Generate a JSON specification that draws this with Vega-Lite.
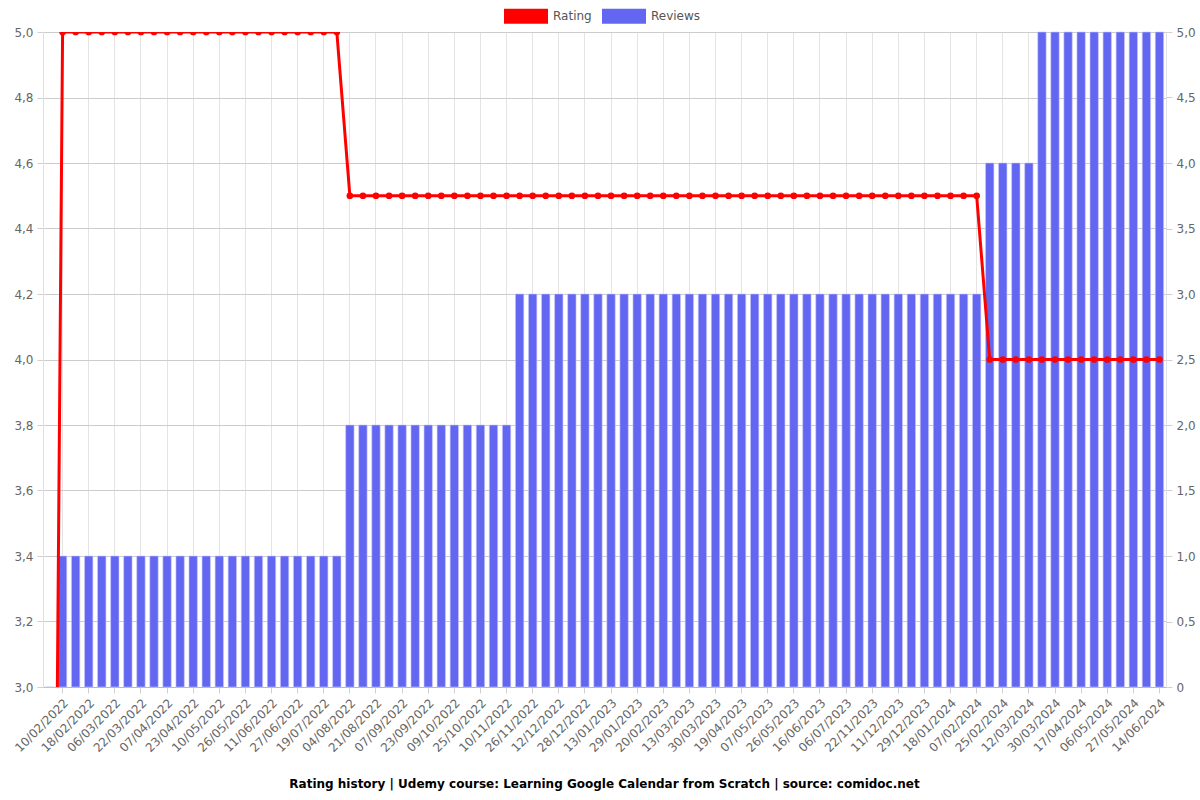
{
  "$schema": "https://vega.github.io/schema/vega-lite/v6.json",
  "width": 1123,
  "height": 655,
  "autosize": {"type": "none"},
  "padding": {"left": 43, "top": 32, "right": 34, "bottom": 113},
  "config": {
    "font": "DejaVu Sans",
    "view": {"stroke": null},
    "axis": {"labelFont": "DejaVu Sans", "labelColor": "#666666", "title": null, "tickColor": "#d0d0d0", "tickSize": 6}
  },
  "title": {"text": "Rating history | Udemy course: Learning Google Calendar from Scratch | source: comidoc.net", "orient": "bottom", "fontSize": 12, "fontWeight": "bold", "color": "#000000", "font": "DejaVu Sans", "offset": 25},
  "data": {"values": [
    {"date": "02/02/2022", "rating": 0, "reviews": 0},
    {"date": "10/02/2022", "rating": 5, "reviews": 1},
    {"date": "14/02/2022", "rating": 5, "reviews": 1},
    {"date": "18/02/2022", "rating": 5, "reviews": 1},
    {"date": "26/02/2022", "rating": 5, "reviews": 1},
    {"date": "06/03/2022", "rating": 5, "reviews": 1},
    {"date": "14/03/2022", "rating": 5, "reviews": 1},
    {"date": "22/03/2022", "rating": 5, "reviews": 1},
    {"date": "30/03/2022", "rating": 5, "reviews": 1},
    {"date": "07/04/2022", "rating": 5, "reviews": 1},
    {"date": "15/04/2022", "rating": 5, "reviews": 1},
    {"date": "23/04/2022", "rating": 5, "reviews": 1},
    {"date": "02/05/2022", "rating": 5, "reviews": 1},
    {"date": "10/05/2022", "rating": 5, "reviews": 1},
    {"date": "18/05/2022", "rating": 5, "reviews": 1},
    {"date": "26/05/2022", "rating": 5, "reviews": 1},
    {"date": "03/06/2022", "rating": 5, "reviews": 1},
    {"date": "11/06/2022", "rating": 5, "reviews": 1},
    {"date": "19/06/2022", "rating": 5, "reviews": 1},
    {"date": "27/06/2022", "rating": 5, "reviews": 1},
    {"date": "08/07/2022", "rating": 5, "reviews": 1},
    {"date": "19/07/2022", "rating": 5, "reviews": 1},
    {"date": "27/07/2022", "rating": 5, "reviews": 1},
    {"date": "04/08/2022", "rating": 4.5, "reviews": 2},
    {"date": "12/08/2022", "rating": 4.5, "reviews": 2},
    {"date": "21/08/2022", "rating": 4.5, "reviews": 2},
    {"date": "30/08/2022", "rating": 4.5, "reviews": 2},
    {"date": "07/09/2022", "rating": 4.5, "reviews": 2},
    {"date": "15/09/2022", "rating": 4.5, "reviews": 2},
    {"date": "23/09/2022", "rating": 4.5, "reviews": 2},
    {"date": "01/10/2022", "rating": 4.5, "reviews": 2},
    {"date": "09/10/2022", "rating": 4.5, "reviews": 2},
    {"date": "17/10/2022", "rating": 4.5, "reviews": 2},
    {"date": "25/10/2022", "rating": 4.5, "reviews": 2},
    {"date": "02/11/2022", "rating": 4.5, "reviews": 2},
    {"date": "10/11/2022", "rating": 4.5, "reviews": 2},
    {"date": "18/11/2022", "rating": 4.5, "reviews": 3},
    {"date": "26/11/2022", "rating": 4.5, "reviews": 3},
    {"date": "04/12/2022", "rating": 4.5, "reviews": 3},
    {"date": "12/12/2022", "rating": 4.5, "reviews": 3},
    {"date": "20/12/2022", "rating": 4.5, "reviews": 3},
    {"date": "28/12/2022", "rating": 4.5, "reviews": 3},
    {"date": "05/01/2023", "rating": 4.5, "reviews": 3},
    {"date": "13/01/2023", "rating": 4.5, "reviews": 3},
    {"date": "21/01/2023", "rating": 4.5, "reviews": 3},
    {"date": "29/01/2023", "rating": 4.5, "reviews": 3},
    {"date": "09/02/2023", "rating": 4.5, "reviews": 3},
    {"date": "20/02/2023", "rating": 4.5, "reviews": 3},
    {"date": "02/03/2023", "rating": 4.5, "reviews": 3},
    {"date": "13/03/2023", "rating": 4.5, "reviews": 3},
    {"date": "21/03/2023", "rating": 4.5, "reviews": 3},
    {"date": "30/03/2023", "rating": 4.5, "reviews": 3},
    {"date": "09/04/2023", "rating": 4.5, "reviews": 3},
    {"date": "19/04/2023", "rating": 4.5, "reviews": 3},
    {"date": "28/04/2023", "rating": 4.5, "reviews": 3},
    {"date": "07/05/2023", "rating": 4.5, "reviews": 3},
    {"date": "16/05/2023", "rating": 4.5, "reviews": 3},
    {"date": "26/05/2023", "rating": 4.5, "reviews": 3},
    {"date": "05/06/2023", "rating": 4.5, "reviews": 3},
    {"date": "16/06/2023", "rating": 4.5, "reviews": 3},
    {"date": "26/06/2023", "rating": 4.5, "reviews": 3},
    {"date": "06/07/2023", "rating": 4.5, "reviews": 3},
    {"date": "03/11/2023", "rating": 4.5, "reviews": 3},
    {"date": "22/11/2023", "rating": 4.5, "reviews": 3},
    {"date": "01/12/2023", "rating": 4.5, "reviews": 3},
    {"date": "11/12/2023", "rating": 4.5, "reviews": 3},
    {"date": "20/12/2023", "rating": 4.5, "reviews": 3},
    {"date": "29/12/2023", "rating": 4.5, "reviews": 3},
    {"date": "08/01/2024", "rating": 4.5, "reviews": 3},
    {"date": "18/01/2024", "rating": 4.5, "reviews": 3},
    {"date": "28/01/2024", "rating": 4.5, "reviews": 3},
    {"date": "07/02/2024", "rating": 4.5, "reviews": 3},
    {"date": "16/02/2024", "rating": 4, "reviews": 4},
    {"date": "25/02/2024", "rating": 4, "reviews": 4},
    {"date": "04/03/2024", "rating": 4, "reviews": 4},
    {"date": "12/03/2024", "rating": 4, "reviews": 4},
    {"date": "21/03/2024", "rating": 4, "reviews": 5},
    {"date": "30/03/2024", "rating": 4, "reviews": 5},
    {"date": "08/04/2024", "rating": 4, "reviews": 5},
    {"date": "17/04/2024", "rating": 4, "reviews": 5},
    {"date": "26/04/2024", "rating": 4, "reviews": 5},
    {"date": "06/05/2024", "rating": 4, "reviews": 5},
    {"date": "16/05/2024", "rating": 4, "reviews": 5},
    {"date": "27/05/2024", "rating": 4, "reviews": 5},
    {"date": "05/06/2024", "rating": 4, "reviews": 5},
    {"date": "14/06/2024", "rating": 4, "reviews": 5}
  ]},
  "encoding": {
    "x": {
      "field": "date",
      "type": "ordinal",
      "sort": null,
      "scale": {"paddingInner": 0.36, "paddingOuter": 0.18},
      "axis": {
        "values": ["10/02/2022","18/02/2022","06/03/2022","22/03/2022","07/04/2022","23/04/2022","10/05/2022","26/05/2022","11/06/2022","27/06/2022","19/07/2022","04/08/2022","21/08/2022","07/09/2022","23/09/2022","09/10/2022","25/10/2022","10/11/2022","26/11/2022","12/12/2022","28/12/2022","13/01/2023","29/01/2023","20/02/2023","13/03/2023","30/03/2023","19/04/2023","07/05/2023","26/05/2023","16/06/2023","06/07/2023","22/11/2023","11/12/2023","29/12/2023","18/01/2024","07/02/2024","25/02/2024","12/03/2024","30/03/2024","17/04/2024","06/05/2024","27/05/2024","14/06/2024"],
        "labelAngle": -45,
        "labelAlign": "right",
        "labelBaseline": "top",
        "labelFontSize": 12,
        "labelOverlap": false,
        "labelPadding": 4,
        "grid": true,
        "gridColor": "#e4e4e4",
        "domainColor": "#b8b8b8",
        "tickColor": "#d0d0d0",
        "tickSize": 6
      }
    }
  },
  "layer": [
    {
      "mark": {"type": "bar", "color": "#6366f1", "stroke": "#c7c8fa", "strokeWidth": 0.6},
      "encoding": {
        "y": {
          "field": "reviews",
          "type": "quantitative",
          "scale": {"domain": [0, 5], "nice": false},
          "axis": {
            "orient": "right",
            "values": [0, 0.5, 1, 1.5, 2, 2.5, 3, 3.5, 4, 4.5, 5],
            "labelExpr": "datum.value == 0 ? '0' : replace(format(datum.value, '.1f'), '.', ',')",
            "labelFontSize": 12,
            "grid": false,
            "domainColor": "#e0e0e0",
            "tickColor": "#d0d0d0",
            "tickSize": 6,
            "labelPadding": 4
          }
        },
        "color": {
          "datum": "Reviews",
          "scale": {"domain": ["Rating", "Reviews"], "range": ["#ff0000", "#6366f1"]},
          "legend": {
            "orient": "none",
            "direction": "horizontal",
            "legendX": 461,
            "legendY": -38,
            "title": null,
            "symbolType": "M-1,-0.34H1V0.34H-1Z",
            "symbolSize": 1936,
            "symbolStrokeWidth": 0,
            "symbolOpacity": 1,
            "labelFontSize": 12,
            "labelColor": "#555555",
            "labelFont": "DejaVu Sans",
            "labelOffset": 5,
            "columnPadding": 10
          }
        }
      }
    },
    {
      "mark": {
        "type": "line",
        "color": "#ff0000",
        "strokeWidth": 3,
        "clip": true,
        "point": {"filled": true, "size": 45, "color": "#ff0000"}
      },
      "encoding": {
        "y": {
          "field": "rating",
          "type": "quantitative",
          "scale": {"domain": [3, 5], "nice": false, "zero": false},
          "axis": {
            "orient": "left",
            "values": [3, 3.2, 3.4, 3.6, 3.8, 4, 4.2, 4.4, 4.6, 4.8, 5],
            "labelExpr": "replace(format(datum.value, '.1f'), '.', ',')",
            "labelFontSize": 12,
            "grid": true,
            "gridColor": "#cccccc",
            "domainColor": "#e0e0e0",
            "tickColor": "#d0d0d0",
            "tickSize": 6,
            "labelPadding": 4
          }
        }
      }
    }
  ],
  "resolve": {"scale": {"y": "independent"}}
}
